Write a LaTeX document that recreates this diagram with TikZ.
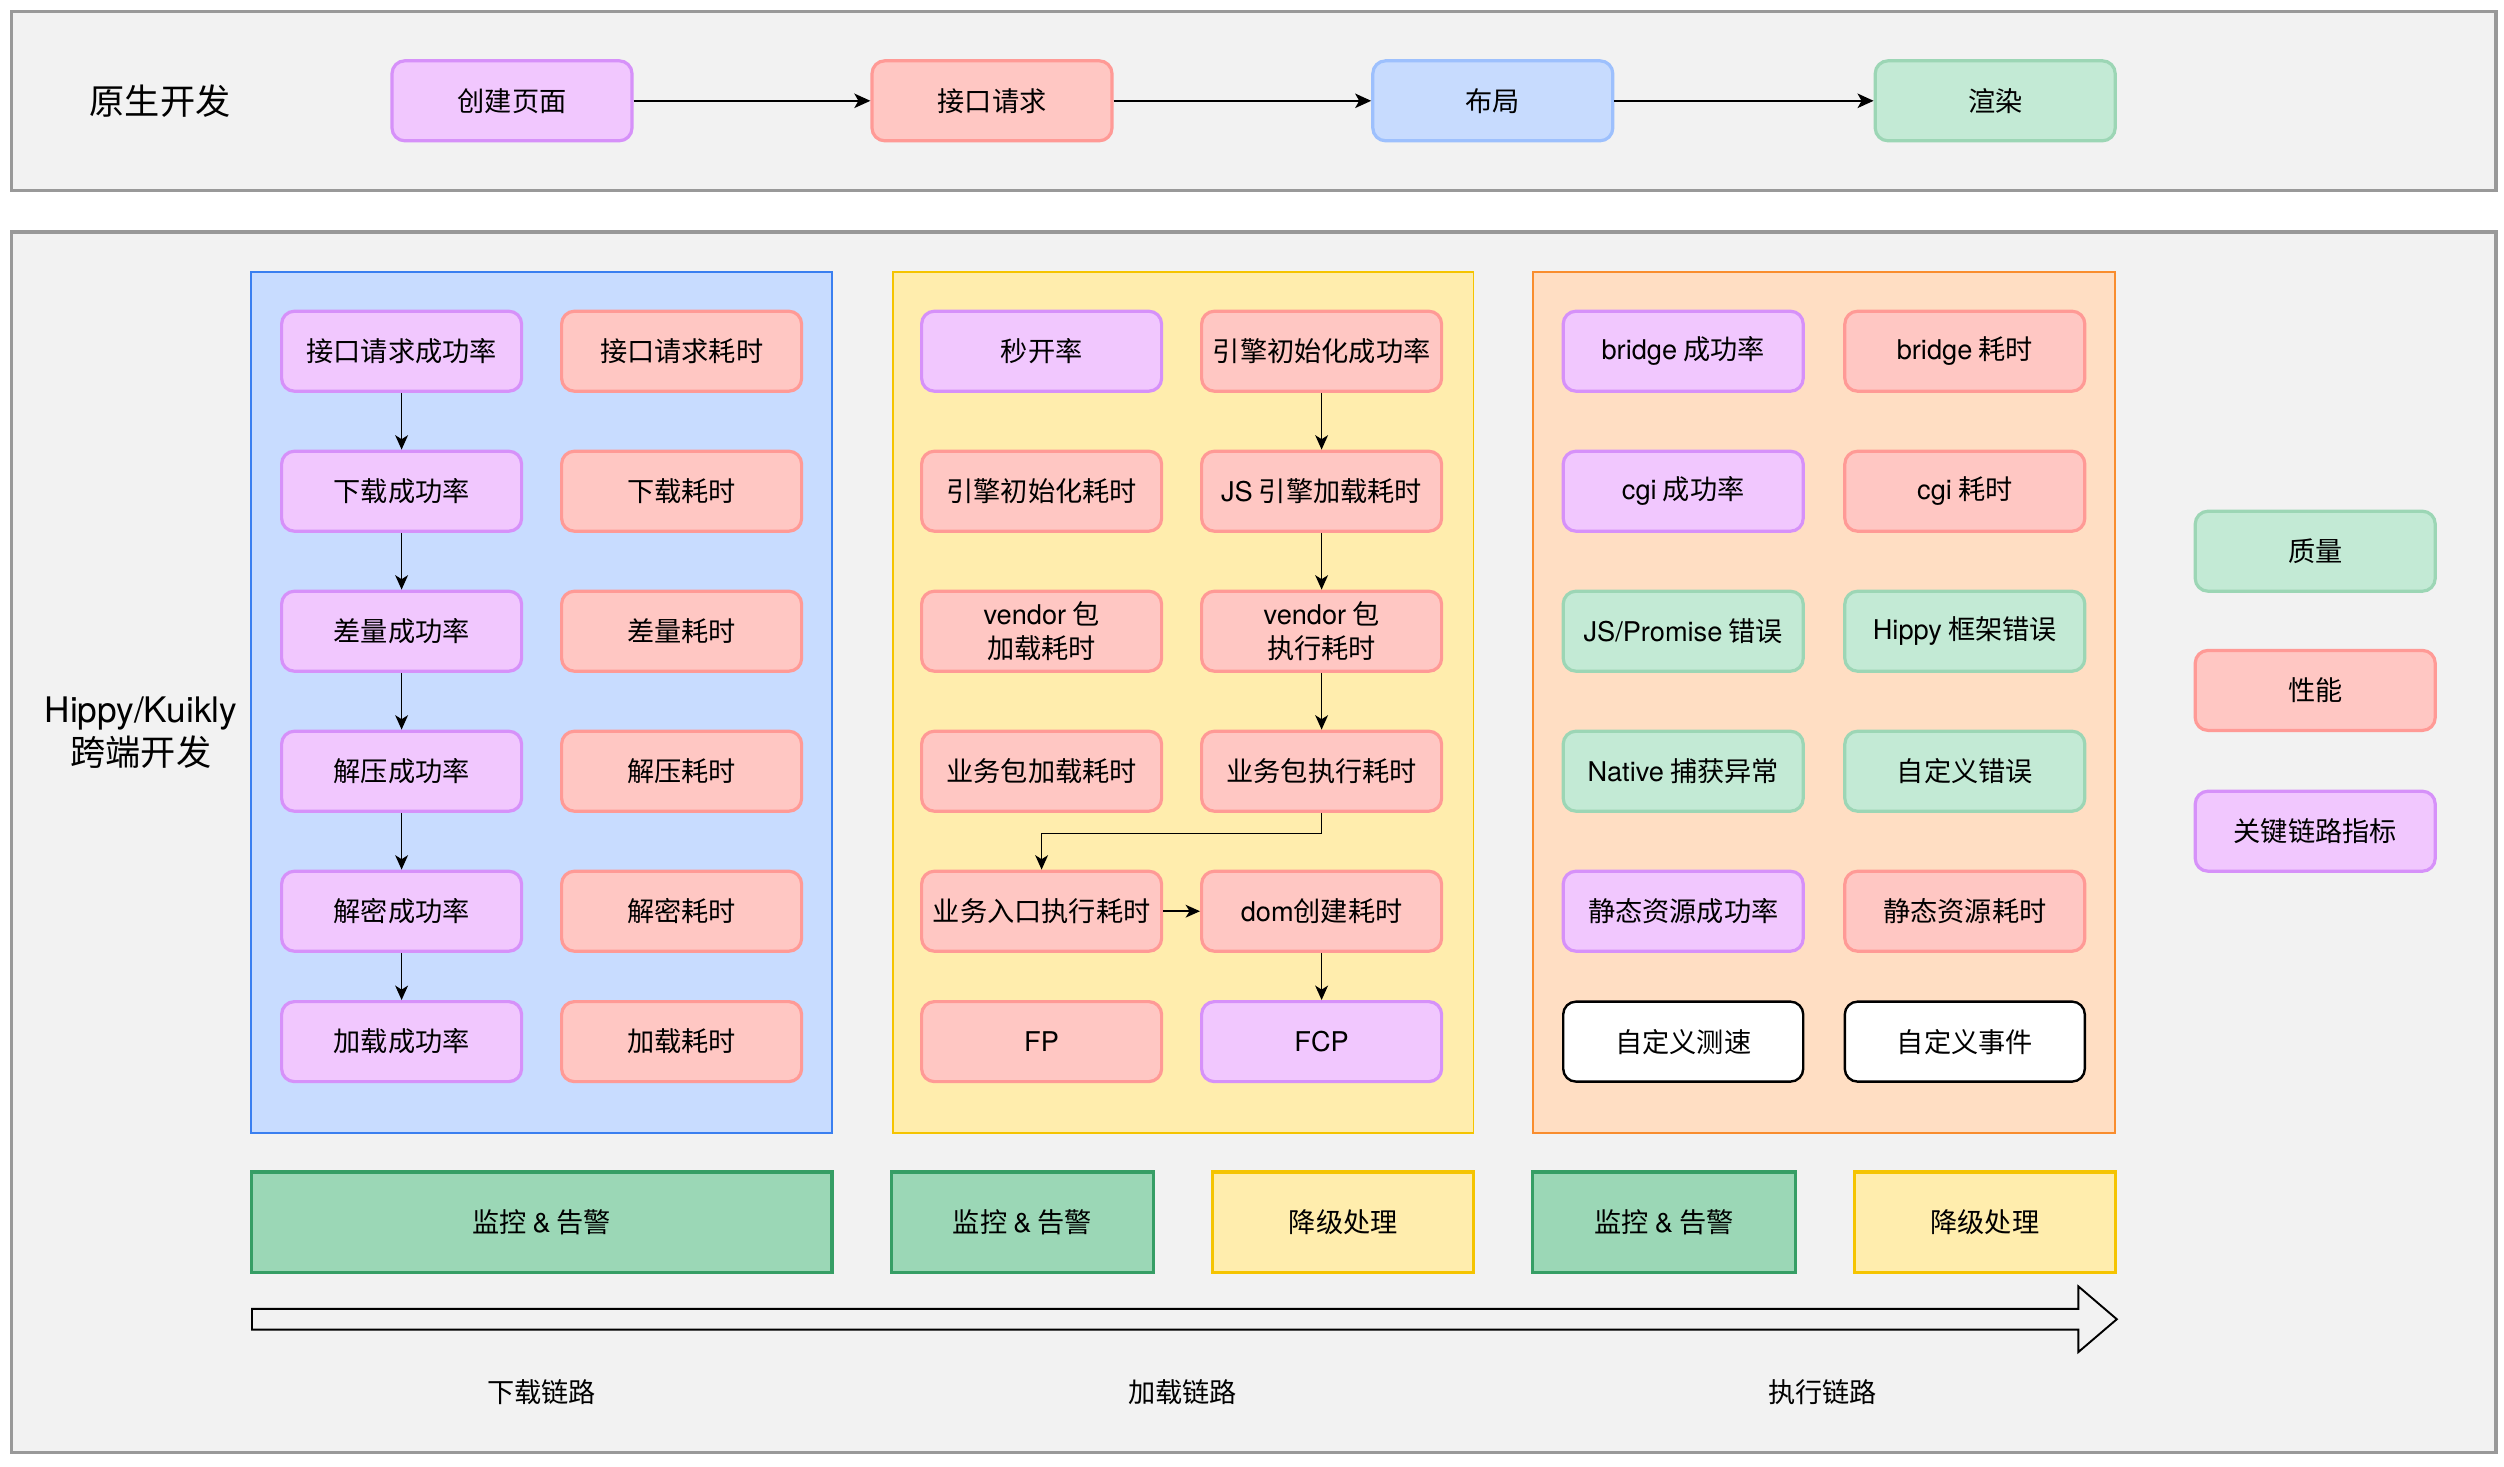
\documentclass[tikz,border=0pt]{standalone}
\usepackage{fontspec}
\setmainfont{Noto Sans CJK SC}
\newfontfamily\lat{TeX Gyre Heros}
\usetikzlibrary{arrows.meta}
\newcommand\fs{\fontsize{17}{21}\selectfont}
\newcommand\fb{\fontsize{22}{27}\selectfont}
\definecolor{bgG}{HTML}{F2F2F2}
\definecolor{bgS}{HTML}{999999}
\definecolor{puF}{HTML}{F1C7FE}
\definecolor{puS}{HTML}{D691F9}
\definecolor{reF}{HTML}{FFC7C3}
\definecolor{reS}{HTML}{FF9A96}
\definecolor{blF}{HTML}{C7DBFE}
\definecolor{blS}{HTML}{9DC0FD}
\definecolor{grF}{HTML}{C3EAD5}
\definecolor{grS}{HTML}{9CD6B5}
\definecolor{pbF}{HTML}{C8DCFF}
\definecolor{pbS}{HTML}{3A7FF0}
\definecolor{pyF}{HTML}{FFEDAD}
\definecolor{pyS}{HTML}{F5C400}
\definecolor{poF}{HTML}{FFDEC3}
\definecolor{poS}{HTML}{F98D2E}
\definecolor{mnF}{HTML}{9BD7B6}
\definecolor{mnS}{HTML}{369E65}
\tikzset{
  box/.style={rounded corners=8pt, minimum width=150pt, minimum height=50pt, line width=2pt, align=center, inner sep=0pt, font=\fs},
  pu/.style={box, fill=puF, draw=puS},
  re/.style={box, fill=reF, draw=reS},
  bl/.style={box, fill=blF, draw=blS},
  gr/.style={box, fill=grF, draw=grS},
  wh/.style={box, fill=white, draw=black, line width=1.5pt},
  outer/.style={fill=bgG, draw=bgS, line width=2pt},
  panel/.style={line width=1pt},
  mon/.style={draw=mnS, fill=mnF, line width=2pt, minimum height=63pt, inner sep=0pt, font=\fs},
  deg/.style={draw=pyS, fill=pyF, line width=2pt, minimum height=63pt, minimum width=163pt, inner sep=0pt, font=\fs},
  arr/.style={line width=1pt, -{Stealth[length=9pt,width=8pt,inset=2.5pt]}},
  arrt/.style={line width=1.4pt, -{Stealth[length=10pt,width=9pt,inset=2.5pt]}},
  lbl/.style={font=\fs, inner sep=0pt},
}
\begin{document}
\begin{tikzpicture}[x=1pt,y=-1pt]
\useasboundingbox (0,0) rectangle (1565,916.25);
\fill[white] (0,0) rectangle (1565,916.25);
% outer frames
\draw[outer] (7,7) rectangle (1560,119);
\draw[outer] (7,145) rectangle (1560,908);
% top row
\node[font=\fb, inner sep=0pt] (native) at (100,63) {原生开发};
\node[pu] (t1) at (320,63) {创建页面};
\node[re] (t2) at (620,63) {接口请求};
\node[bl] (t3) at (933,63) {布局};
\node[gr] (t4) at (1247,63) {渲染};
\draw[arrt] (t1) -- (t2);
\draw[arrt] (t2) -- (t3);
\draw[arrt] (t3) -- (t4);
% left label
\node[font=\fb, align=center, inner sep=0pt] (hippy) at (88,458) {{\lat Hippy/Kuikly}\\跨端开发};
% panels
\draw[panel, fill=pbF, draw=pbS] (157,170) rectangle (520,708);
\draw[panel, fill=pyF, draw=pyS] (558,170) rectangle (921,708);
\draw[panel, fill=poF, draw=poS] (958,170) rectangle (1322,708);
% blue panel
\node[pu] (a1) at (251,219.5) {接口请求成功率};
\node[re] (b1) at (426,219.5) {接口请求耗时};
\node[pu] (a2) at (251,307) {下载成功率};
\node[re] (b2) at (426,307) {下载耗时};
\node[pu] (a3) at (251,394.5) {差量成功率};
\node[re] (b3) at (426,394.5) {差量耗时};
\node[pu] (a4) at (251,482) {解压成功率};
\node[re] (b4) at (426,482) {解压耗时};
\node[pu] (a5) at (251,569.5) {解密成功率};
\node[re] (b5) at (426,569.5) {解密耗时};
\node[pu] (a6) at (251,651) {加载成功率};
\node[re] (b6) at (426,651) {加载耗时};
\draw[arr] (a1) -- (a2);
\draw[arr] (a2) -- (a3);
\draw[arr] (a3) -- (a4);
\draw[arr] (a4) -- (a5);
\draw[arr] (a5) -- (a6);
% yellow panel
\node[pu] (c1) at (651,219.5) {秒开率};
\node[re] (d1) at (826,219.5) {引擎初始化成功率};
\node[re] (c2) at (651,307) {引擎初始化耗时};
\node[re] (d2) at (826,307) {{\lat JS} 引擎加载耗时};
\node[re] (c3) at (651,394.5) {{\lat vendor} 包\\加载耗时};
\node[re] (d3) at (826,394.5) {{\lat vendor} 包\\执行耗时};
\node[re] (c4) at (651,482) {业务包加载耗时};
\node[re] (d4) at (826,482) {业务包执行耗时};
\node[re] (c5) at (651,569.5) {业务入口执行耗时};
\node[re] (d5) at (826,569.5) {{\lat dom}创建耗时};
\node[re] (c6) at (651,651) {{\lat FP}};
\node[pu] (d6) at (826,651) {{\lat FCP}};
\draw[arr] (d1) -- (d2);
\draw[arr] (d2) -- (d3);
\draw[arr] (d3) -- (d4);
\draw[arr] (d4.south) -- ++(0,13) -| (c5.north);
\draw[arr] (c5) -- (d5);
\draw[arr] (d5) -- (d6);
% orange panel
\node[pu] (e1) at (1052,219.5) {{\lat bridge} 成功率};
\node[re] (f1) at (1228,219.5) {{\lat bridge} 耗时};
\node[pu] (e2) at (1052,307) {{\lat cgi} 成功率};
\node[re] (f2) at (1228,307) {{\lat cgi} 耗时};
\node[gr] (e3) at (1052,394.5) {{\lat JS/Promise} 错误};
\node[gr] (f3) at (1228,394.5) {{\lat Hippy} 框架错误};
\node[gr] (e4) at (1052,482) {{\lat Native} 捕获异常};
\node[gr] (f4) at (1228,482) {自定义错误};
\node[pu] (e5) at (1052,569.5) {静态资源成功率};
\node[re] (f5) at (1228,569.5) {静态资源耗时};
\node[wh] (e6) at (1052,651) {自定义测速};
\node[wh] (f6) at (1228,651) {自定义事件};
% legend
\node[gr] (q) at (1447,344.5) {质量};
\node[re] (p) at (1447,431.5) {性能};
\node[pu] (k) at (1447,519.5) {关键链路指标};
% monitoring row
\node[mon, minimum width=363pt] (m1) at (338.5,764) {监控 {\lat \&} 告警};
\node[mon, minimum width=164pt] (m2) at (639,764) {监控 {\lat \&} 告警};
\node[deg] (g1) at (839.5,764) {降级处理};
\node[mon, minimum width=164pt] (m3) at (1040,764) {监控 {\lat \&} 告警};
\node[deg] (g2) at (1240.5,764) {降级处理};
% big arrow
\draw[fill=bgG, draw=black, line width=1.2pt, line join=miter]
  (157.5,818) -- (1299,818) -- (1299,804) -- (1323,824.5) -- (1299,845) -- (1299,831) -- (157.5,831) -- cycle;
\node[lbl] (l1) at (338.5,870) {下载链路};
\node[lbl] (l2) at (739,870) {加载链路};
\node[lbl] (l3) at (1139,870) {执行链路};
\end{tikzpicture}
\end{document}
